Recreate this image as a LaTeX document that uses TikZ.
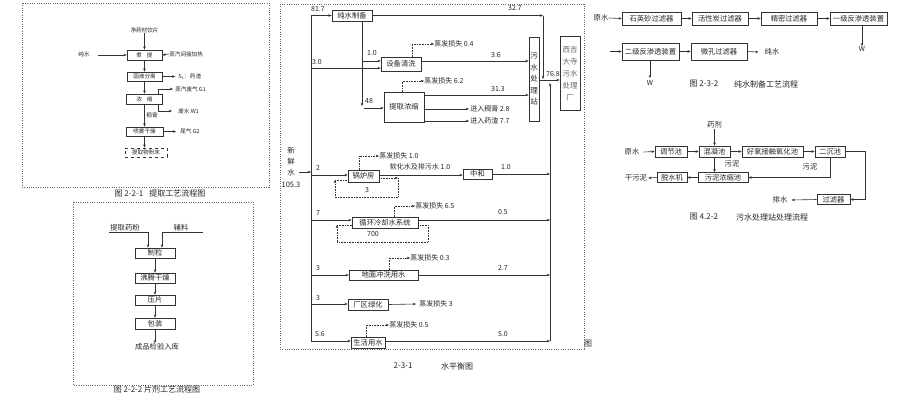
\documentclass[tikz,border=0pt]{standalone}
\usepackage{fontspec}
\setmainfont{Noto Sans CJK SC}
\usetikzlibrary{arrows.meta}
\newcommand\fsA{\fontsize{5.6}{6.5}\selectfont}
\newcommand\fsB{\fontsize{7}{8}\selectfont}
\newcommand\fsC{\fontsize{7.3}{8.5}\selectfont}
\newcommand\fsD{\fontsize{8}{9}\selectfont}
\begin{document}
\begin{tikzpicture}[x=1pt,y=-1pt,line width=0.6pt,
  every node/.style={text=black!85,inner sep=0pt},
  arr/.style={draw=black!80,-{Stealth[length=3.2pt,width=2.6pt]}},
  ln/.style={draw=black!80},
  evap/.style={draw=black!80,densely dotted,-{Stealth[length=3.2pt,width=2.6pt]}},
  lp/.style={draw=black!80,densely dotted},
  bx/.style={draw=black!80,font=\fsC},
  bxa/.style={draw=black!80,font=\fsA},
  frm/.style={draw=black!60,dash pattern=on 1pt off 1.3pt},
  lab/.style={font=\fsB},
  laba/.style={font=\fsA},
  captxt/.style={font=\fsD}]
\fill[white] (0,0) rectangle (915,400);
\useasboundingbox (0,0) rectangle (915,400);

% ===== Fig 2-2-1 =====
\draw[frm] (22,3) rectangle (269,187);
\node[laba] (a0) at (144.5,30) {净药材饮片};
\node[bxa,minimum width=35pt,minimum height=10pt] (a1) at (144.5,55) {煮\hspace{5pt}提};
\node[bxa,minimum width=35pt,minimum height=9pt] (a2) at (144.5,76.5) {固液分离};
\node[bxa,minimum width=36pt,minimum height=10pt] (a3) at (144.5,99) {浓\hspace{5pt}缩};
\node[bxa,minimum width=37pt,minimum height=9pt] (a4) at (144.5,131.5) {喷雾干燥};
\node[bxa,dashed,minimum width=42pt,minimum height=9pt] (a5) at (146,152.5) {提取物粉末};
\node[laba] (a6) at (84,54) {纯水};
\node[laba,anchor=west] (a7) at (169,54) {蒸汽间接加热};
\node[laba,anchor=west] (a8) at (178,77) {S\textsubscript{1}：药渣};
\node[laba,anchor=west] (a9) at (175,89) {蒸汽废气 G1};
\node[laba,anchor=west] (a10) at (178,111) {废水 W1};
\node[laba] (a11) at (152,115) {稠膏};
\node[laba,anchor=west] (a12) at (180,131.5) {尾气 G2};
\coordinate (a6r) at (98,55);
\draw[arr] (a0.south) -- (a1.north);
\draw[arr] (a6r) -- (a1.west);
\draw[arr] (a7.west) -- (a1.east);
\draw[arr] (a1.south) -- (a2.north);
\draw[arr] (a2.south) -- (a3.north);
\draw[arr] (a2.east) -- ++(13,0);
\draw[arr] (a3.north east) ++(-5,0) |- ([xshift=-2pt]a9.west);
\draw[arr] (a3.south east) ++(-5,0) |- ([xshift=-6pt]a10.west);
\draw[arr] (a3.south) -- (a4.north);
\draw[arr] (a4.east) -- ([xshift=-4pt]a12.west);
\draw[arr] (a4.south) -- (a5.north -| a4.south);
\node[captxt] (c1) at (160,193) {图 2-2-1\hspace{6pt}提取工艺流程图};

% ===== Fig 2-2-2 =====
\draw[frm] (73,202) rectangle (253,385);
\node[lab,font=\fsC] (b0) at (125,228) {提取药粉};
\node[lab,font=\fsC] (b1) at (181,228) {辅料};
\node[bx,minimum width=40pt,minimum height=10pt] (b2) at (155,253) {制粒};
\node[bx,minimum width=40pt,minimum height=10pt] (b3) at (155,278) {沸腾干燥};
\node[bx,minimum width=40pt,minimum height=10pt] (b4) at (155,300) {压片};
\node[bx,minimum width=40pt,minimum height=11pt] (b5) at (155,323.5) {包装};
\node[lab,font=\fsC] (b6) at (157,347) {成品检验入库};
\coordinate (b0l) at (109,232);
\coordinate (b1r) at (203,232);
\draw[arr] (b0l) -- (148,232) -- (b2.north -| 148,0);
\draw[arr] (b1r) -- (162,232) -- (b2.north -| 162,0);
\draw[arr] (b2) -- (b3);
\draw[arr] (b3) -- (b4);
\draw[arr] (b4) -- (b5);
\draw[arr] (b5.south) -- (b5.south |- b6.north);
\node[captxt] (c2) at (157,389) {图 2-2-2 片剂工艺流程图};

% ===== Fig 2-3-1 water balance =====
\draw[frm] (280,4) rectangle (584,349);
\node[font=\fsD] (fig) at (588,344) {图};
% boxes
\node[bx,minimum width=40pt,minimum height=11pt] (cs) at (352,15.5) {纯水制备};
\node[bx,minimum width=40pt,minimum height=14pt] (sb) at (401,64) {设备清洗};
\node[bx,minimum width=40pt,minimum height=30pt] (tn) at (404,107) {提取浓缩};
\node[bx,minimum width=10pt,minimum height=84pt,align=center,font=\fontsize{7.5}{11.5}\selectfont] (ws) at (534,79) {污\\水\\处\\理\\站};
\node[bx,minimum width=20pt,minimum height=74pt,align=center,text=black!60,font=\fontsize{7.5}{12}\selectfont] (xj) at (570,73.5) {西吉\\大寺\\污水\\处理\\厂};
\node[bx,minimum width=31pt,minimum height=12pt] (gl) at (363.5,176) {锅炉房};
\node[bx,minimum width=29pt,minimum height=10pt] (zh) at (477.5,174) {中和};
\node[bx,minimum width=66pt,minimum height=11pt] (xh) at (385,222.5) {循环冷却水系统};
\node[bx,minimum width=69pt,minimum height=10pt] (dm) at (383.5,275) {地面冲洗用水};
\node[bx,minimum width=40pt,minimum height=11pt] (cq) at (368,304.5) {厂区绿化};
\node[bx,minimum width=34pt,minimum height=11pt] (sh) at (368,342.5) {生活用水};
% fresh water
\node[align=center,font=\fontsize{7.5}{11.3}\selectfont] (xx) at (291,167) {新\\鲜\\水\\105.3};
\coordinate (m1) at (311,15.5);
\coordinate (m9) at (311,341);
\draw[ln] (m1) -- (m9);
\draw[arr] (299,172) -- (311,172);
% inputs
\draw[arr] (m1) -- (cs.west);
\node[lab] (l817) at (318,9) {81.7};
\draw[arr] (311,68) -- (sb.west |- 0,68);
\node[lab] (l30) at (317,62) {3.0};
\coordinate (v1) at (362,61);
\draw[ln] (cs.south -| 362,0) -- (v1);
\draw[arr] (v1) -- (v1 -| sb.west);
\node[lab] (l10a) at (372,53) {1.0};
\draw[arr] (v1) -- (362,106);
\draw[arr] (364,108) -- (tn.west |- 0,108);
\node[lab] (l48) at (369,101) {48};
\draw[arr] (311,175) -- (gl.west |- 0,175);
\node[lab] (l2) at (318,168) {2};
\draw[arr] (311,220) -- (xh.west |- 0,220);
\node[lab] (l7) at (318,213) {7};
\draw[arr] (311,275) -- (dm.west);
\node[lab] (l3a) at (318,268) {3};
\draw[arr] (311,304) -- (cq.west |- 0,304);
\node[lab] (l3b) at (318,298) {3};
\draw[arr] (m9) -- (sh.west |- m9);
\node[lab] (l56) at (320,334) {5.6};
% evaporation
\node[lab,anchor=west] (e1) at (434,44) {蒸发损失 0.4};
\draw[evap] (sb.north -| 412,0) |- (e1.west);
\node[lab,anchor=west] (e2) at (424,81) {蒸发损失 6.2};
\draw[evap] (tn.north -| 402,0) |- (e2.west);
\node[lab,anchor=west] (e3) at (379,156) {蒸发损失 1.0};
\draw[evap] (gl.north -| 359,0) |- (e3.west);
\node[lab,anchor=west] (e4) at (415,206) {蒸发损失 6.5};
\draw[evap] (xh.north -| 394,0) |- (e4.west);
\node[lab,anchor=west] (e5) at (410,258) {蒸发损失 0.3};
\draw[evap] (dm.north -| 389,0) |- (e5.west);
\node[lab,anchor=west] (e6) at (419,304) {蒸发损失 3};
\draw[arr] (cq.east) -- ([xshift=-3pt]e6.west);
\node[lab,anchor=west] (e7) at (389,325) {蒸发损失 0.5};
\draw[evap] (sh.north -| 366,0) |- (e7.west);
% loops
\draw[evap] (gl.east |- 0,178) -- (398,178);
\draw[evap] (398,178) -- (398,197) -- (335,197) -- (335,180);
\draw[lp] (335,180) -- (gl.west |- 0,180);
\node[lab] (l3c) at (367,190) {3};
\draw[lp] (xh.east |- 0,225) -- (428,225) -- (428,242) -- (337,242);
\draw[evap] (337,242) -- (337,225);
\draw[lp] (337,225) -- (xh.west |- 0,225);
\node[lab] (l700) at (373,234) {700};
% outputs
\coordinate (t1) at (543,15.5);
\coordinate (t2) at (543,79);
\draw[arr] (cs.east) -- (t1);
\draw[arr] (t1) -- (t2);
\node[lab] (l327) at (515,8) {32.7};
\draw[arr] (sb.east |- 0,61) -- (ws.west |- 0,61);
\node[lab] (l36) at (496,55) {3.6};
\draw[arr] (tn.east |- 0,95) -- (ws.west |- 0,95);
\node[lab] (l313) at (498,89) {31.3};
\node[lab,anchor=west] (o1) at (470,109) {进入稠膏 2.8};
\draw[arr] (tn.east |- o1.west) -- ([xshift=-1pt]o1.west);
\node[lab,anchor=west] (o2) at (470,121) {进入药渣 7.7};
\draw[arr] (tn.east |- o2.west) -- ([xshift=-1pt]o2.west);
\draw[arr] (ws.east |- 0,80) -- (xj.west |- 0,80);
\node[lab] (l768) at (553,74) {76.8};
\coordinate (cb) at (550,341);
\coordinate (ct) at (550,83);
\draw[arr] (cb) -- (ct);
\draw[arr] (gl.east |- 0,175) -- (zh.west |- 0,175);
\node[lab] (lrh) at (420,167) {软化水及排污水 1.0};
\draw[arr] (zh.east) -- (zh.east -| cb);
\node[lab] (l10b) at (506,167) {1.0};
\draw[arr] (xh.east |- 0,220) -- (550,220);
\node[lab] (l05) at (503,212) {0.5};
\draw[arr] (dm.east) -- (dm.east -| cb);
\node[lab] (l27) at (503,268) {2.7};
\draw[arr] (sh.east |- cb) -- (cb);
\node[lab] (l50) at (503,334) {5.0};
\node[captxt] (c3a) at (403,366) {2-3-1};
\node[captxt] (c3b) at (457,366) {水平衡图};

% ===== Fig 2-3-2 pure water =====
\node[bx,minimum width=59pt,minimum height=13pt] (p1) at (651.5,18.5) {石英砂过滤器};
\node[bx,minimum width=56pt,minimum height=13pt] (p2) at (720,18.5) {活性炭过滤器};
\node[bx,minimum width=56pt,minimum height=13pt] (p3) at (789,18.5) {精密过滤器};
\node[bx,minimum width=57pt,minimum height=13pt] (p4) at (858.5,18.5) {一级反渗透装置};
\node[bx,minimum width=57pt,minimum height=17pt] (p5) at (650.5,51.5) {二级反渗透装置};
\node[bx,minimum width=56pt,minimum height=17pt] (p6) at (719,51.5) {微孔过滤器};
\node[lab,font=\fsC] (p0) at (601,18) {原水};
\node[lab,font=\fsC] (p7) at (772,52) {纯水};
\node[lab] (w1) at (862,49) {W};
\node[lab] (w2) at (650,83) {W};
\coordinate (p5in) at (610,51.5);
\draw[arr] (p0.east) -- (p1.west);
\draw[arr] (p1) -- (p2);
\draw[arr] (p2) -- (p3);
\draw[arr] (p3) -- (p4);
\draw[arr] (p4.south -| w1) -- (w1.north);
\draw[arr] (p5in) -- (p5.west);
\draw[arr] (p5) -- (p6);
\draw[arr] (p6.east) -- ([xshift=-6pt]p7.west);
\draw[arr] (p5.south -| w2) -- ([yshift=2pt]w2.north);
\node[captxt] (c4a) at (704,84) {图 2-3-2};
\node[captxt] (c4b) at (766,84) {纯水制备工艺流程};

% ===== Fig 4.2-2 wastewater =====
\node[bx,minimum width=32pt,minimum height=11pt] (q1) at (671,151.5) {调节池};
\node[bx,minimum width=31pt,minimum height=11pt] (q2) at (714.5,151.5) {混凝池};
\node[bx,minimum width=61pt,minimum height=11pt] (q3) at (772.5,151.5) {好氧接触氧化池};
\node[bx,minimum width=30pt,minimum height=11pt] (q4) at (830,151.5) {二沉池};
\node[bx,minimum width=50pt,minimum height=10pt] (q5) at (723,177.5) {污泥浓缩池};
\node[bx,minimum width=30pt,minimum height=10pt] (q6) at (672,177.5) {脱水机};
\node[bx,minimum width=33pt,minimum height=10pt] (q7) at (833.5,199.5) {过滤器};
\node[lab,font=\fsC] (r1) at (714.5,125) {药剂};
\node[lab,font=\fsC] (r2) at (632,152) {原水};
\node[lab,font=\fsC] (r3) at (636,178) {干污泥};
\node[lab,font=\fsC] (r4) at (780,200) {排水};
\node[lab,font=\fsC] (r5) at (732,164) {污泥};
\node[lab,font=\fsC] (r6) at (810,167) {污泥};
\draw[arr] (r1.south) -- (q2.north);
\draw[arr] (r2.east) ++(4,0) -- (q1.west);
\draw[arr] (q1) -- (q2);
\draw[arr] (q2) -- (q3);
\draw[arr] (q3) -- (q4);
\coordinate (qr) at (865,151.5);
\draw[arr] (q4.east) -- (qr) |- (q7.east);
\draw[arr] (q7.west) -- ([xshift=4pt]r4.east);
\draw[arr] (q4.south) |- (q5.east);
\draw[arr] (q2.south) -- (q2.south |- q5.north);
\draw[arr] (q5.west) -- (q6.east);
\draw[arr] (q6.west) -- ([xshift=1pt]r3.east);
\node[captxt] (c5a) at (704,217) {图 4.2-2};
\node[captxt] (c5b) at (772,217) {污水处理站处理流程};
\end{tikzpicture}
\end{document}
